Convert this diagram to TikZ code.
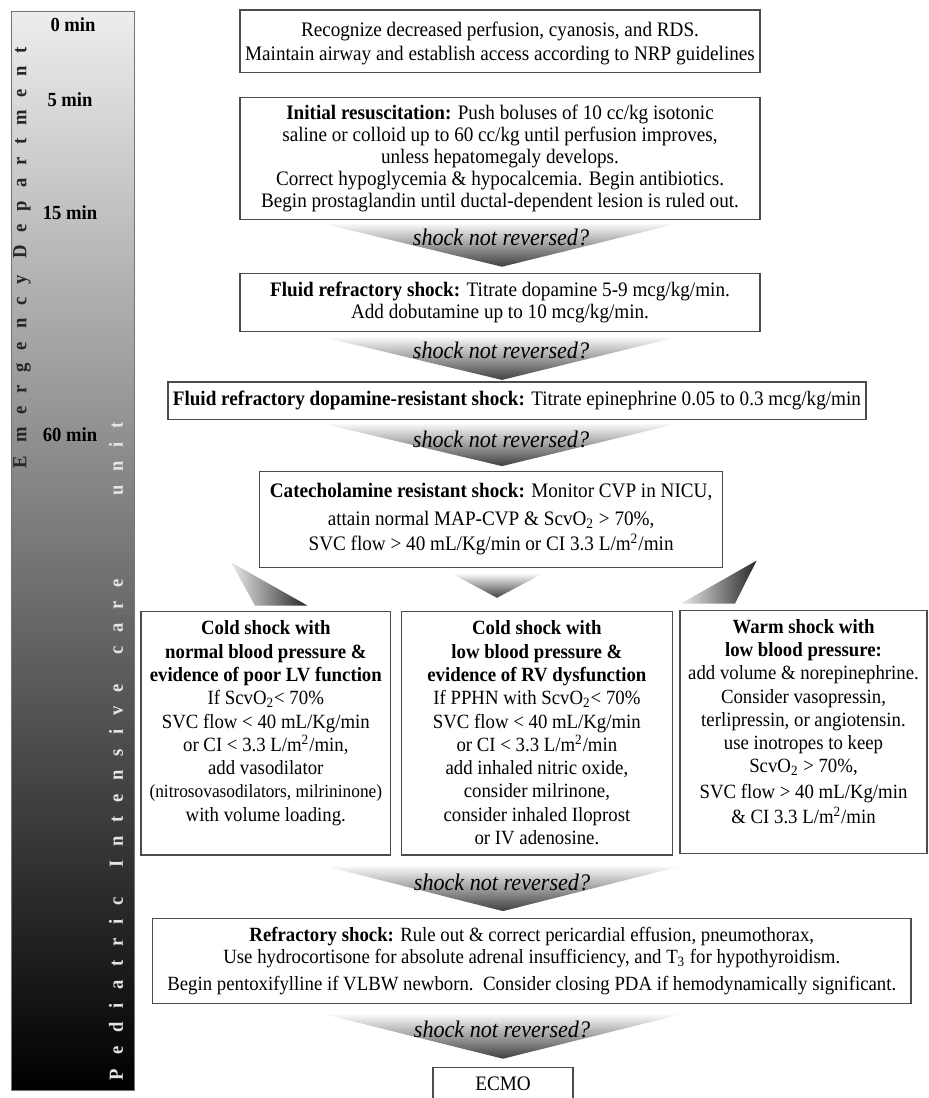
\documentclass[tikz,border=0pt]{standalone}
\usepackage{fontspec}
\setmainfont{Liberation Serif}[FakeStretch=0.93]
\usetikzlibrary{positioning,calc}

\newcommand{\colbody}[3]{\parbox[c][#2][t]{#1}{\centering\vspace*{4.5pt}#3}}

\begin{document}
\begin{tikzpicture}[
  x = 0.5pt, y = -0.5pt,
  every node/.style = {font=\fontsize{10.3}{11}\selectfont},
  box/.style = {draw=black!70, line width=0.6pt, fill=white, align=center, inner sep=0pt},
  wh/.style 2 args = {minimum width=#1*0.5pt, minimum height=#2*0.5pt},
  colfont/.style = {font=\fontsize{10.1}{11.65}\selectfont},
  ask/.style = {font=\fontsize{11.9}{12}\selectfont\itshape},
  timemark/.style = {font=\fontsize{10}{12}\selectfont\bfseries},
  ward/.style = {rotate=90, font=\fontsize{10}{12}\selectfont\bfseries},
  wedge/.style = {top color=black!3, bottom color=black!75},
  sidewedge/.style = {left color=black!8, right color=black!85},
  ]
  \useasboundingbox (0,0) rectangle (929,1098);
  \clip (0,0) rectangle (929,1098);
  \fill[white] (0,0) rectangle (929,1098);

  % time bar
  \shade[top color=black!7, bottom color=black, draw=black!55] (11,11) rectangle (134,1090);
  \node[ward, text=black!85] (ed) at (22,257.4)
    {\makebox[210.6pt][s]{E m e r g e n c y\hspace{2pt} D e p a r t m e n t}};
  \node[ward, text=black!10] (picu) at (116,751)
    {\makebox[329pt][s]{P e d i a t r i c\hspace{8pt} I n t e n s i v e\hspace{8pt} c a r e\hspace{35pt} u n i t}};
  \node[timemark] (t0) at (73,25) {0 min};
  \node[timemark] (t5) at (70,100) {5 min};
  \node[timemark] (t15) at (70,213) {15 min};
  \node[timemark] (t60) at (70,435) {60 min};

  % boxes
  \node[box, wh={520}{62.7}] (recognize) at (500,41.3)
    {\rule{0pt}{9pt}Recognize decreased perfusion, cyanosis, and RDS.\\[1pt]
     Maintain airway and establish access according to NRP guidelines};
  \node[box, wh={520}{122}] (initial) at (500,158.3)
    {\textbf{Initial resuscitation:} Push boluses of 10 cc/kg isotonic\\
     saline or colloid up to 60 cc/kg until perfusion improves,\\
     unless hepatomegaly develops.\\
     Correct hypoglycemia \& hypocalcemia. Begin antibiotics.\\
     Begin prostaglandin until ductal-dependent lesion is ruled out.};
  \node[box, wh={520}{58.4}] (fluid) at (500,302.5)
    {\textbf{Fluid refractory shock:} Titrate dopamine 5-9 mcg/kg/min.\\
     Add dobutamine up to 10 mcg/kg/min.};
  \node[box, wh={698}{37.3}] (dopres) at (516.9,400.7)
    {\textbf{Fluid refractory dopamine-resistant shock:} Titrate epinephrine 0.05 to 0.3 mcg/kg/min};
  \node[box, wh={463}{95.6}] (catres) at (491.1,519.5)
    {\textbf{Catecholamine resistant shock:} Monitor CVP in NICU,\\[3pt]
     attain normal MAP-CVP \& ScvO\textsubscript{2} > 70\%,\\[1.5pt]
     SVC flow > 40 mL/Kg/min or CI 3.3 L/m\textsuperscript{2}/min};
  \node[box, colfont] (coldlv) at (265.8,733.4)
    {\colbody{124.8pt}{121.6pt}{\textbf{Cold shock with}\\
     \textbf{normal blood pressure \&}\\
     \textbf{evidence of poor LV function}\\
     If ScvO\textsubscript{2}< 70\%\\
     SVC flow < 40 mL/Kg/min\\
     or CI < 3.3 L/m\textsuperscript{2}/min,\\
     add vasodilator\\
     {\fontsize{9.3}{11}\selectfont(nitrosovasodilators, milrininone)}\\
     with volume loading.}};
  \node[box, colfont] (coldrv) at (536.9,733.4)
    {\colbody{135.2pt}{121.6pt}{\textbf{Cold shock with}\\
     \textbf{low blood pressure \&}\\
     \textbf{evidence of RV dysfunction}\\
     If PPHN with ScvO\textsubscript{2}< 70\%\\
     SVC flow < 40 mL/Kg/min\\
     or CI < 3.3 L/m\textsuperscript{2}/min\\
     add inhaled nitric oxide,\\
     consider milrinone,\\
     consider inhaled Iloprost\\
     or IV adenosine.}};
  \node[box, colfont] (warm) at (803.5,731.7)
    {\colbody{123.5pt}{121.6pt}{\textbf{Warm shock with}\\
     \textbf{low blood pressure:}\\
     add volume \& norepinephrine.\\
     Consider vasopressin,\\
     terlipressin, or angiotensin.\\
     use inotropes to keep\\
     ScvO\textsubscript{2} > 70\%,\\[1pt]
     SVC flow > 40 mL/Kg/min\\[1pt]
     \& CI 3.3 L/m\textsuperscript{2}/min}};
  \node[box, wh={758.4}{85}, font=\fontsize{10.1}{10.9}\selectfont] (refractory) at (531.8,960.8)
    {\textbf{Refractory shock:} Rule out \& correct pericardial effusion, pneumothorax,\\
     Use hydrocortisone for absolute adrenal insufficiency, and T\textsubscript{3} for hypothyroidism.\\[2.5pt]
     Begin pentoxifylline if VLBW newborn.\ \ Consider closing PDA if hemodynamically significant.};
  \node[box, anchor=north, minimum width=70pt, inner ysep=4.9pt, text depth=6pt] (ecmo) at (503,1066.7) {ECMO};

  % arrows
  \coordinate (low5) at (ecmo.north |- coldrv.south);
  \coordinate (low6) at (ecmo.north |- refractory.south);
  \coordinate (tip5) at (ecmo.north |- refractory.north);
  \shade[wedge] ($(initial.south)+(-176,4)$) -- ($(initial.south)+(176,4)$) -- ($(fluid.north)+(2,-6)$) -- cycle;
  \shade[wedge] ($(fluid.south)+(-176,5)$) -- ($(fluid.south)+(176,5)$) -- ($(fluid.south)+(2,47.6)$) -- cycle;
  \shade[wedge] ($(fluid.south |- dopres.south)+(-176,4)$) -- ($(fluid.south |- dopres.south)+(176,4)$) -- ($(fluid.south |- catres.north)+(2,-5)$) -- cycle;
  \shade[sidewedge] ($(catres.south west)+(-28,-5.6)$) -- ($(coldlv.north)+(41.6,-5.7)$) -- ($(coldlv.north)+(-10.8,-5.7)$) -- cycle;
  \shade[wedge] ($(catres.south)+(-38.6,6)$) -- ($(catres.south)+(50.7,6)$) -- ($(coldrv.north)+(-39.9,-13.4)$) -- cycle;
  \shade[sidewedge] ($(catres.south east)+(33.4,-7.3)$) -- ($(warm.north)+(-68.5,-6)$) -- ($(warm.north)+(-122.5,-6)$) -- cycle;
  \shade[wedge] ($(low5)+(-176,11)$) -- ($(low5)+(176,11)$) -- ($(tip5)+(0,-6.6)$) -- cycle;
  \shade[wedge] ($(low6)+(-176,11)$) -- ($(low6)+(176,11)$) -- ($(ecmo.north)+(0,-8)$) -- cycle;

  \node[ask] (ask1) at ($(initial.south)+(1,17.4)$) {shock not reversed?};
  \node[ask] (ask2) at ($(fluid.south)+(1,18.3)$) {shock not reversed?};
  \node[ask] (ask3) at ($(fluid.south |- dopres.south)+(1,19)$) {shock not reversed?};
  \node[ask] (ask5) at ($(low5)+(-1,26.7)$) {shock not reversed?};
  \node[ask] (ask6) at ($(low6)+(-1,25)$) {shock not reversed?};
\end{tikzpicture}
\end{document}
